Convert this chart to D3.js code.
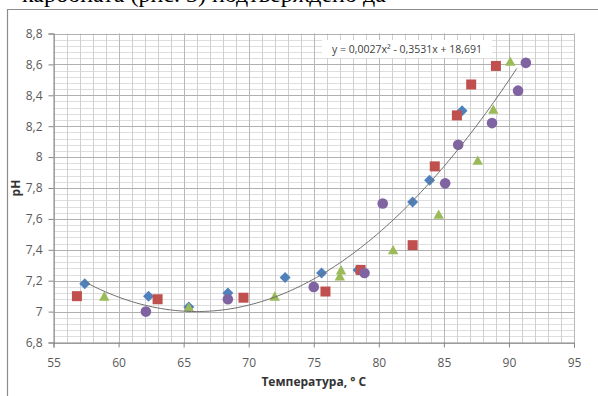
<!DOCTYPE html>
<html>
<head>
<meta charset="utf-8">
<script src="https://cdn.jsdelivr.net/npm/d3@7"></script>
<style>
  body { margin: 0; background: #fff; }
  svg { display: block; font-family: "Open Sans", sans-serif; }
</style>
</head>
<body>
<div class="svg-container"></div>
<script>
// data (temperature, pH)
const tempBlue = [57.4, 62.3, 65.4, 68.4, 72.8, 75.6, 78.4, 82.6, 83.9, 86.4];
const phBlue   = [7.18, 7.10, 7.03, 7.12, 7.22, 7.25, 7.27, 7.71, 7.85, 8.30];
const tempRed  = [56.8, 63.0, 69.6, 75.9, 78.6, 82.6, 84.3, 86.0, 87.1, 89.0];
const phRed    = [7.10, 7.08, 7.09, 7.13, 7.27, 7.43, 7.94, 8.27, 8.47, 8.59];
const tempGreen = [58.9, 65.4, 72.0, 77.0, 77.1, 81.1, 84.6, 87.6, 88.8, 90.1];
const phGreen   = [7.10, 7.03, 7.10, 7.23, 7.27, 7.40, 7.63, 7.98, 8.31, 8.62];
const tempPurple = [62.1, 68.4, 75.0, 78.9, 80.3, 85.1, 86.1, 88.7, 90.7, 91.3];
const phPurple   = [7.00, 7.08, 7.16, 7.25, 7.70, 7.83, 8.08, 8.22, 8.43, 8.61];

// polynomial trendline (a, b, c) and its x span
const trendCoef = [0.0026, -0.3432, 18.326];
const trendRange = [57.4, 90.7];
const trendLabel = 'y = 0,0027x² - 0,3531x + 18,691';

const xTicks = [55, 60, 65, 70, 75, 80, 85, 90, 95];
const yTicks = [6.8, 7, 7.2, 7.4, 7.6, 7.8, 8, 8.2, 8.4, 8.6, 8.8];
const xTitle = 'Температура, ° C';
const yTitle = 'pH';

function renderChart() {
  const width = 598;
  const height = 396;
  const plot = { left: 53.5, right: 574, top: 33.5, bottom: 342.5 };

  const svg = d3.select('.svg-container')
    .append('svg')
    .attr('width', width)
    .attr('height', height);

  // bit of the document text above the chart, cut off by the page edge
  svg.append('text')
    .attr('x', 22)
    .attr('y', 2)
    .attr('font-family', '"Liberation Serif", serif')
    .attr('font-size', 24)
    .attr('fill', '#000')
    .text('карбоната (рис. 3) подтверждено да');

  // chart frame
  svg.append('path')
    .attr('d', `M7.5,${height} V9.5 H${width}`)
    .attr('fill', 'none')
    .attr('stroke', '#8c8c8c')
    .attr('stroke-width', 1.2);

  const x = d3.scaleLinear().domain([55, 95]).range([plot.left, plot.right]);
  const y = d3.scaleLinear().domain([6.8, 8.8]).range([plot.bottom, plot.top]);

  // gridlines
  const grid = svg.append('g');
  const minorX = d3.range(55, 96, 1);
  const minorY = d3.range(0, 51).map(i => +(6.8 + i * 0.04).toFixed(2));

  grid.selectAll('.minor-y')
    .data(minorY)
    .enter()
    .append('line')
    .attr('x1', plot.left).attr('x2', plot.right)
    .attr('y1', d => Math.round(y(d)) + 0.5).attr('y2', d => Math.round(y(d)) + 0.5)
    .attr('stroke', '#dedede');

  grid.selectAll('.minor-x')
    .data(minorX)
    .enter()
    .append('line')
    .attr('x1', d => Math.round(x(d)) + 0.5).attr('x2', d => Math.round(x(d)) + 0.5)
    .attr('y1', plot.top).attr('y2', plot.bottom)
    .attr('stroke', '#cfcfcf');

  grid.selectAll('.major-y')
    .data(yTicks)
    .enter()
    .append('line')
    .attr('x1', plot.left).attr('x2', plot.right)
    .attr('y1', d => Math.round(y(d)) + 0.5).attr('y2', d => Math.round(y(d)) + 0.5)
    .attr('stroke', '#b0b0b0');

  grid.selectAll('.major-x')
    .data(xTicks)
    .enter()
    .append('line')
    .attr('x1', d => Math.round(x(d)) + 0.5).attr('x2', d => Math.round(x(d)) + 0.5)
    .attr('y1', plot.top).attr('y2', plot.bottom)
    .attr('stroke', '#b8b8b8');

  const fmt = d => String(+d.toFixed(1)).replace('.', ',');

  // axes
  const xAxis = svg.append('g')
    .attr('transform', `translate(0,${plot.bottom})`)
    .call(d3.axisBottom(x).tickValues(xTicks).tickFormat(fmt).tickSize(5).tickPadding(11));
  const yAxis = svg.append('g')
    .attr('transform', `translate(${plot.left},0)`)
    .call(d3.axisLeft(y).tickValues(yTicks).tickFormat(fmt).tickSize(5).tickPadding(6));

  [xAxis, yAxis].forEach(ax => {
    ax.select('.domain').attr('stroke', '#868686');
    ax.selectAll('.tick line').attr('stroke', '#868686');
    ax.selectAll('.tick text')
      .attr('fill', '#595959')
      .attr('font-size', 12)
      .attr('font-family', '"Open Sans", sans-serif');
  });

  // axis titles
  svg.append('text')
    .attr('x', (plot.left + plot.right) / 2)
    .attr('y', 386)
    .attr('text-anchor', 'middle')
    .attr('font-size', 12)
    .attr('font-weight', 'bold')
    .attr('fill', '#333')
    .text(xTitle);

  svg.append('text')
    .attr('transform', `translate(20,${(plot.top + plot.bottom) / 2}) rotate(-90)`)
    .attr('text-anchor', 'middle')
    .attr('font-size', 12)
    .attr('font-weight', 'bold')
    .attr('fill', '#333')
    .text(yTitle);

  // markers
  const series = [
    { t: tempBlue, p: phBlue, color: '#4f81bd', shape: 'diamond' },
    { t: tempRed, p: phRed, color: '#c0504d', shape: 'square' },
    { t: tempGreen, p: phGreen, color: '#9bbb59', shape: 'triangle' },
    { t: tempPurple, p: phPurple, color: '#8064a2', shape: 'circle' }
  ];

  const shapes = {
    diamond: 'M0,-5.5L5.5,0L0,5.5L-5.5,0Z',
    square: 'M-5,-5H5V5H-5Z',
    triangle: 'M0,-4.8L5.2,4.5L-5.2,4.5Z',
    circle: d3.symbol(d3.symbolCircle, Math.PI * 5.3 * 5.3)()
  };

  series.forEach(s => {
    svg.append('g')
      .selectAll('path')
      .data(d3.zip(s.t, s.p))
      .enter()
      .append('path')
      .attr('d', shapes[s.shape])
      .attr('transform', d => `translate(${x(d[0])},${y(d[1])})`)
      .attr('fill', s.color);
  });

  // trendline
  const poly = t => trendCoef[0] * t * t + trendCoef[1] * t + trendCoef[2];
  const trendPts = d3.range(trendRange[0], trendRange[1] + 0.001, 0.2).map(t => [t, poly(t)]);

  svg.append('path')
    .datum(trendPts)
    .attr('d', d3.line().x(d => x(d[0])).y(d => y(d[1])).curve(d3.curveMonotoneX))
    .attr('fill', 'none')
    .attr('stroke', '#6e6e6e')
    .attr('stroke-width', 1);

  // equation label
  svg.append('rect')
    .attr('x', 322).attr('y', 40)
    .attr('width', 170).attr('height', 18)
    .attr('fill', '#fff');

  svg.append('text')
    .attr('x', 407)
    .attr('y', 53)
    .attr('text-anchor', 'middle')
    .attr('font-size', 10.5)
    .attr('fill', '#404040')
    .text(trendLabel);
}

renderChart();
</script>
</body>
</html>
